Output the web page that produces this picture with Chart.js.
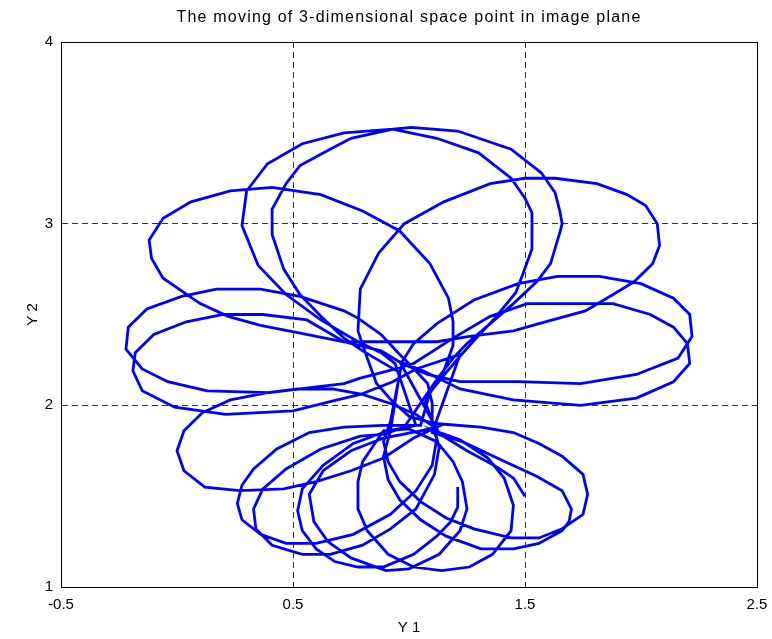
<!DOCTYPE html>
<html>
<head>
<meta charset="utf-8">
<title>Moving point in image plane</title>
<script src="https://cdn.jsdelivr.net/npm/chart.js@4.4.0/dist/chart.umd.min.js"></script>
<style>
  html, body { margin: 0; padding: 0; background: #fff; }
</style>
</head>
<body>
<canvas id="trajChart" width="772" height="639"></canvas>
<script>
// tick labels
const xTicks = [-0.5, 0.5, 1.5, 2.5];
const yTicks = [1, 2, 3, 4];

// Y 1 coordinate of the trajectory, one line per loop
const y1Values = [
  1.21, 1.21, 1.18, 1.12, 1.02, 0.89, 0.78, 0.68, 0.60, 0.54, 0.52, 0.54, 0.63, 0.76, 0.91, 1.03,
  0.94, 0.88, 0.78, 0.62, 0.47, 0.35, 0.28, 0.30, 0.39, 0.54, 0.72, 0.93, 1.01, 1.21, 1.44, 1.57, 1.63, 1.65, 1.66, 1.65, 1.61, 1.55, 1.45, 1.35, 1.25, 1.19, 1.13, 1.07,
  0.98, 0.89, 0.79, 0.62, 0.47, 0.37, 0.33, 0.34, 0.41, 0.54, 0.66, 0.80, 0.92, 1.03, 1.11, 1.13, 1.10,
  1.07, 1.10, 1.15, 1.19, 1.19, 1.17, 1.09, 0.96, 0.80, 0.62, 0.41, 0.23, 0.06, -0.06, -0.12, -0.11, -0.06, 0.10, 0.22, 0.36,
  0.52, 0.72, 0.96, 1.12, 1.26, 1.45, 1.56, 1.76, 1.88, 1.97, 2.05, 2.08, 2.07, 2.02, 1.94, 1.81, 1.63, 1.50, 1.35, 1.15,
  0.98, 0.87, 0.79, 0.78, 0.82, 0.86, 0.93, 1.00,
  1.11, 1.31, 1.45, 1.56, 1.66, 1.75, 1.77, 1.75, 1.66, 1.56, 1.44, 1.28, 1.16, 1.05, 0.96, 0.91, 0.89, 0.92,
  0.97, 1.02, 1.12, 1.28, 1.47, 1.64, 1.82, 2.00, 2.14, 2.21, 2.22, 2.16, 1.98, 1.74, 1.47, 1.22, 1.08, 0.97, 0.88,
  0.72, 0.56, 0.37, 0.20, 0.04, -0.10, -0.18, -0.19, -0.15, -0.01, 0.21, 0.50, 0.66, 0.79, 0.93, 1.03, 1.22,
  1.10, 1.23, 1.38, 1.55, 1.66, 1.70, 1.69, 1.66, 1.56, 1.45, 1.31, 1.16, 1.05, 0.96, 0.91, 0.89, 0.92,
  0.96, 0.80, 0.72, 0.62, 0.53, 0.46, 0.41, 0.41, 0.47, 0.53, 0.66, 0.75, 0.93, 1.12, 1.30, 1.44, 1.50, 1.53, 1.53, 1.49, 1.46, 1.37, 1.29, 1.22, 1.16, 1.09,
  1.05, 0.89, 0.72, 0.57, 0.43, 0.33, 0.28, 0.26, 0.28, 0.36, 0.47, 0.60, 0.76, 0.92, 1.03, 1.10, 1.12, 1.10, 1.10, 1.08, 1.00, 0.96, 0.88,
  0.78, 0.72, 0.53, 0.36, 0.17, 0.02, -0.13, -0.21, -0.22, -0.15, -0.04, 0.13, 0.40, 0.53, 0.72, 0.79, 0.91, 1.02, 1.19, 1.35, 1.51,
  1.72, 1.88, 2.04, 2.14, 2.20, 2.21, 2.14, 1.98, 1.74, 1.45, 1.22, 1.06, 0.96,
  1.12, 1.03, 0.92, 0.80, 0.67, 0.52, 0.39, 0.23, 0.11, 0.03, 0.00, 0.03, 0.12, 0.27, 0.46, 0.60, 0.75, 0.89, 1.02, 1.12,
  1.05, 0.89, 0.75, 0.63, 0.57, 0.59, 0.65, 0.75, 0.90, 1.00, 1.13, 1.22, 1.25, 1.23, 1.19, 1.12,
  1.00, 0.89, 0.80, 0.78, 0.78, 0.82, 0.91, 1.02, 1.14, 1.26, 1.36, 1.44, 1.45, 1.41, 1.34, 1.22, 1.11,
  1.25, 1.38, 1.45, 1.50
];

// Y 2 coordinate of the trajectory, same order
const y2Values = [
  1.55, 1.44, 1.36, 1.28, 1.18, 1.11, 1.11, 1.14, 1.21, 1.31, 1.42, 1.54, 1.67, 1.79, 1.86, 1.89,
  2.23, 2.29, 2.35, 2.47, 2.61, 2.77, 2.99, 3.18, 3.33, 3.44, 3.50, 3.52, 3.53, 3.51, 3.41, 3.28, 3.17, 3.07, 3.00, 2.95, 2.78, 2.68, 2.56, 2.45, 2.34, 2.26, 2.16, 2.05,
  1.88, 1.84, 1.83, 1.76, 1.65, 1.54, 1.43, 1.32, 1.23, 1.18, 1.18, 1.23, 1.32, 1.43, 1.62, 1.77, 1.91,
  2.02, 2.09, 2.19, 2.33, 2.46, 2.59, 2.78, 2.96, 3.07, 3.16, 3.20, 3.18, 3.12, 3.03, 2.91, 2.81, 2.70, 2.56, 2.49, 2.44,
  2.40, 2.35, 2.35, 2.35, 2.38, 2.41, 2.45, 2.52, 2.61, 2.68, 2.78, 2.88, 3.00, 3.10, 3.16, 3.22, 3.25, 3.25, 3.22, 3.12,
  3.00, 2.84, 2.64, 2.41, 2.26, 2.12, 2.02, 1.94,
  1.90, 1.88, 1.85, 1.79, 1.72, 1.62, 1.51, 1.40, 1.32, 1.27, 1.27, 1.32, 1.38, 1.47, 1.58, 1.69, 1.80, 1.91,
  2.24, 2.34, 2.45, 2.58, 2.67, 2.71, 2.71, 2.67, 2.59, 2.50, 2.38, 2.26, 2.17, 2.12, 2.13, 2.13, 2.17, 2.23, 2.30,
  2.35, 2.47, 2.50, 2.50, 2.46, 2.39, 2.29, 2.19, 2.08, 1.99, 1.95, 1.97, 2.02, 2.06, 2.13, 2.20, 2.28,
  1.85, 1.80, 1.71, 1.61, 1.53, 1.43, 1.36, 1.31, 1.24, 1.21, 1.21, 1.28, 1.37, 1.48, 1.59, 1.72, 1.86,
  2.18, 2.30, 2.37, 2.49, 2.61, 2.75, 2.94, 3.08, 3.22, 3.32, 3.41, 3.47, 3.52, 3.47, 3.39, 3.25, 3.14, 3.06, 2.86, 2.72, 2.62, 2.48, 2.37, 2.27, 2.18, 2.07,
  1.89, 1.89, 1.88, 1.85, 1.76, 1.65, 1.56, 1.46, 1.37, 1.29, 1.24, 1.24, 1.29, 1.40, 1.53, 1.67, 1.82, 1.87, 2.01, 2.12, 2.23, 2.28, 2.39,
  2.48, 2.52, 2.60, 2.64, 2.64, 2.60, 2.53, 2.43, 2.31, 2.20, 2.13, 2.08, 2.07, 2.09, 2.12, 2.15, 2.19, 2.23, 2.37, 2.49, 2.56,
  2.56, 2.56, 2.50, 2.43, 2.34, 2.23, 2.13, 2.04, 2.00, 2.03, 2.09, 2.19, 2.24,
  1.87, 1.95, 2.01, 2.06, 2.09, 2.09, 2.07, 2.03, 1.96, 1.86, 1.75, 1.64, 1.55, 1.53, 1.54, 1.58, 1.64, 1.71, 1.82, 1.88,
  1.86, 1.82, 1.75, 1.64, 1.51, 1.36, 1.25, 1.16, 1.09, 1.10, 1.18, 1.31, 1.43, 1.58, 1.69, 1.80,
  1.87, 1.86, 1.69, 1.58, 1.43, 1.31, 1.18, 1.11, 1.09, 1.11, 1.18, 1.31, 1.45, 1.60, 1.71, 1.81, 1.86,
  1.75, 1.66, 1.60, 1.50
];

const FONT = "'Liberation Sans', Arial, Helvetica, sans-serif";

// title above the axes and the closed box around them
const frameAndTitle = {
    id: 'frameAndTitle',
    afterDraw(chart) {
        const { ctx, chartArea: a } = chart;
        ctx.save();
        ctx.strokeStyle = '#000';
        ctx.lineWidth = 1;
        ctx.setLineDash([]);
        ctx.strokeRect(a.left + 0.5, a.top + 0.5, a.right - a.left, a.bottom - a.top);
        ctx.fillStyle = '#000';
        ctx.font = '16px ' + FONT;
        if ('letterSpacing' in ctx) ctx.letterSpacing = '1.2px';
        ctx.textAlign = 'center';
        ctx.textBaseline = 'middle';
        ctx.fillText('The moving of 3-dimensional space point in image plane', (a.left + a.right) / 2, 18);
        ctx.restore();
    }
};

const points = y1Values.map((v, i) => ({ x: v, y: y2Values[i] }));

new Chart(document.getElementById('trajChart'), {
    type: 'scatter',
    data: {
        datasets: [{
            data: points,
            showLine: true,
            borderColor: '#0000ff',
            borderWidth: 2.8,
            pointRadius: 0,
            fill: false,
            tension: 0
        }]
    },
    options: {
        responsive: false,
        animation: false,
        layout: { padding: { top: 42, right: 15, left: 0, bottom: 0 } },
        plugins: {
            legend: { display: false },
            tooltip: { enabled: false }
        },
        scales: {
            x: {
                type: 'linear',
                min: -0.5,
                max: 2.5,
                afterBuildTicks: s => { s.ticks = xTicks.map(v => ({ value: v })); },
                afterFit: s => { s.height = 52; s.paddingLeft = 0; s.paddingRight = 0; },
                ticks: { color: '#000', padding: 9, font: { family: FONT, size: 15 }, callback: v => String(v) },
                grid: { color: '#333', lineWidth: 1, drawTicks: false },
                border: { display: true, color: '#000', width: 1, dash: [6, 4] },
                title: { display: true, text: 'Y 1', color: '#000', font: { family: FONT, size: 15 }, padding: { top: 0, bottom: 2 } }
            },
            y: {
                type: 'linear',
                min: 1,
                max: 4,
                afterBuildTicks: s => { s.ticks = yTicks.map(v => ({ value: v })); },
                afterFit: s => { s.width = 61; s.paddingTop = 0; s.paddingBottom = 0; },
                ticks: { color: '#000', padding: 8, font: { family: FONT, size: 15 }, callback: v => String(v) },
                grid: { color: '#333', lineWidth: 1, drawTicks: false },
                border: { display: true, color: '#000', width: 1, dash: [6, 4] },
                title: { display: true, text: 'Y 2', color: '#000', font: { family: FONT, size: 15 }, padding: { top: 24, bottom: 0 } }
            }
        }
    },
    plugins: [frameAndTitle]
});
</script>
</body>
</html>
